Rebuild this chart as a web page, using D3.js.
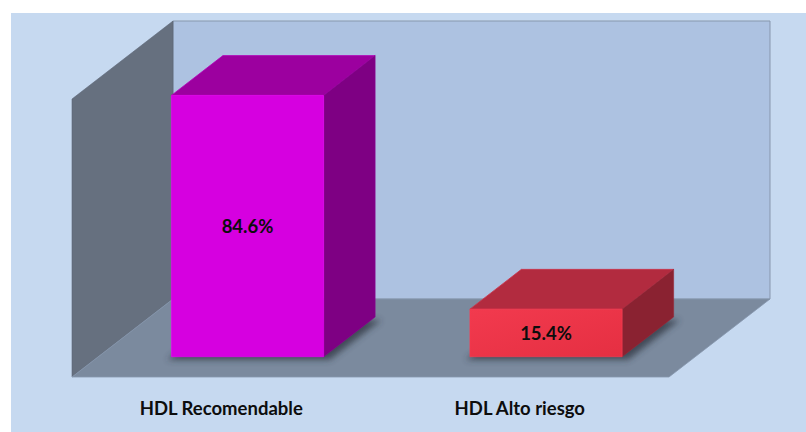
<!DOCTYPE html>
<html>
<head>
<meta charset="utf-8">
<script src="https://cdn.jsdelivr.net/npm/d3@7"></script>
<style>
  html, body { margin: 0; padding: 0; background: #ffffff; }
  svg { display: block; }
</style>
</head>
<body>
<svg id="chart" width="806" height="432"></svg>
<script>
// HDL categories and their shares
const categories = ["HDL Recomendable", "HDL Alto riesgo"];
const values = [0.846, 0.154];
const valueLabels = ["84.6%", "15.4%"];

// face colours per bar: front, top, side
const frontColors = ["#d600e0", "#ee3449"];
const topColors = ["#9c009f", "#b22b3f"];
const sideColors = ["#7e0083", "#8a2231"];

const svg = d3.select("#chart");

// chart panel
svg.append("rect").attr("x", 11).attr("y", 13).attr("width", 795).attr("height", 419)
  .attr("fill", "#c6d9f0");

// front plane of the 3D box and the depth vector
const x0 = 72, x1 = 669, yBase = 377;
const depth = { dx: 101, dy: -78 };

const x = d3.scaleBand().domain(categories).range([x0, x1])
  .paddingInner(0.49).paddingOuter(0.245);
const h = d3.scaleLinear().domain([0, 0.9]).range([0, 278]);
const wallH = h(0.9);

// project a point on the front plane to depth fraction f
const P = (px, py, f) => [px + f * depth.dx, py + f * depth.dy];
const poly = pts => "M" + pts.map(p => p.join(",")).join("L") + "Z";

const defs = svg.append("defs");
defs.append("filter").attr("id", "soft").attr("x", "-20%").attr("y", "-50%")
  .attr("width", "140%").attr("height", "200%")
  .append("feGaussianBlur").attr("stdDeviation", 3);

const redGrad = defs.append("linearGradient").attr("id", "redFront")
  .attr("x1", "0").attr("y1", "0").attr("x2", "1").attr("y2", "1");
redGrad.append("stop").attr("offset", "0").attr("stop-color", "#f23a4e");
redGrad.append("stop").attr("offset", "1").attr("stop-color", "#e52f42");

const wallStroke = "#8797ad";

// back wall
svg.append("path")
  .attr("d", poly([P(x0, yBase - wallH, 1), P(x1, yBase - wallH, 1), P(x1, yBase, 1), P(x0, yBase, 1)]))
  .attr("fill", "#adc2e1").attr("stroke", wallStroke).attr("stroke-width", 1);

// side wall
svg.append("path")
  .attr("d", poly([[x0, yBase - wallH], P(x0, yBase - wallH, 1), P(x0, yBase, 1), [x0, yBase]]))
  .attr("fill", "#66707f").attr("stroke", "#5d6777").attr("stroke-width", 0.6);

// floor
svg.append("path")
  .attr("d", poly([[x0, yBase], P(x0, yBase, 1), P(x1, yBase, 1), [x1, yBase]]))
  .attr("fill", "#7b8a9e").attr("stroke", wallStroke).attr("stroke-width", 0.8);

// bars occupy this slice of the depth
const fFront = 0.26, fBack = 0.77;

const bars = svg.append("g").selectAll("g").data(categories).join("g");

// soft shadow around each bar's footprint on the floor
bars.append("path")
  .attr("d", c => {
    const l = x(c) - 4, r = x(c) + x.bandwidth() + 6;
    return poly([P(l, yBase + 3, fFront), P(l, yBase + 3, fBack), P(r, yBase + 3, fBack), P(r, yBase + 3, fFront)]);
  })
  .attr("fill", "#2d3440").attr("opacity", 0.75).attr("filter", "url(#soft)");

// top face
bars.append("path")
  .attr("d", (c, i) => {
    const l = x(c), r = x(c) + x.bandwidth(), t = yBase - h(values[i]);
    return poly([P(l, t, fFront), P(l, t, fBack), P(r, t, fBack), P(r, t, fFront)]);
  })
  .attr("fill", (c, i) => topColors[i])
  .attr("stroke", (c, i) => d3.color(topColors[i]).brighter(0.4)).attr("stroke-width", 0.8);

// side face
bars.append("path")
  .attr("d", (c, i) => {
    const r = x(c) + x.bandwidth(), t = yBase - h(values[i]);
    return poly([P(r, t, fFront), P(r, t, fBack), P(r, yBase, fBack), P(r, yBase, fFront)]);
  })
  .attr("fill", (c, i) => sideColors[i])
  .attr("stroke", (c, i) => d3.color(sideColors[i]).brighter(0.3)).attr("stroke-width", 0.6);

// front face
bars.append("path")
  .attr("d", (c, i) => {
    const l = x(c), r = x(c) + x.bandwidth(), t = yBase - h(values[i]);
    return poly([P(l, t, fFront), P(r, t, fFront), P(r, yBase, fFront), P(l, yBase, fFront)]);
  })
  .attr("fill", (c, i) => i === 1 ? "url(#redFront)" : frontColors[i])
  .attr("stroke", (c, i) => d3.color(frontColors[i]).brighter(0.3)).attr("stroke-width", 0.6);

// value labels centred on the front faces
bars.append("text")
  .attr("x", c => P(x(c) + x.bandwidth() / 2, 0, fFront)[0])
  .attr("y", (c, i) => P(0, yBase - h(values[i]) / 2, fFront)[1])
  .attr("text-anchor", "middle").attr("dominant-baseline", "central")
  .attr("font-family", "Lato, 'Open Sans', sans-serif").attr("font-weight", 700)
  .attr("font-size", 18.5).attr("fill", "#0d0d0d")
  .text((c, i) => valueLabels[i]);

// category axis labels
svg.append("g").selectAll("text").data(categories).join("text")
  .attr("x", c => x(c) + x.bandwidth() / 2)
  .attr("y", 408)
  .attr("text-anchor", "middle").attr("dominant-baseline", "central")
  .attr("font-family", "Lato, 'Open Sans', sans-serif").attr("font-weight", 700)
  .attr("font-size", 18.5).attr("fill", "#0d0d0d")
  .text(c => c);
</script>
</body>
</html>
